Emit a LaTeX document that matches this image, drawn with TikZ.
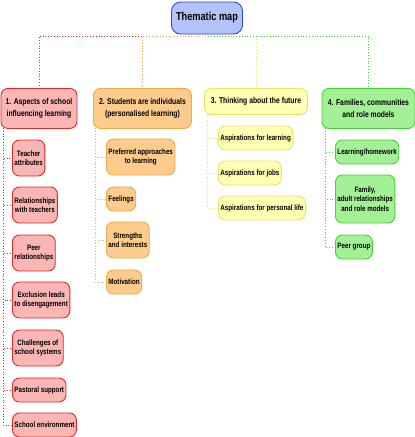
\documentclass[tikz,border=0pt]{standalone}
\usepackage{fontspec}
\setmainfont{Liberation Sans}[FakeStretch=0.8]
\definecolor{rootfill}{HTML}{B4C2F8}
\definecolor{rootline}{HTML}{2848E0}
\definecolor{redfill}{HTML}{F9B6B4}
\definecolor{redline}{HTML}{E02828}
\definecolor{orafill}{HTML}{FDCB8C}
\definecolor{oraline}{HTML}{F0A848}
\definecolor{yelfill}{HTML}{FFFFB4}
\definecolor{yelline}{HTML}{E4E46C}
\definecolor{grnfill}{HTML}{A4F096}
\definecolor{grnline}{HTML}{48D038}
\begin{document}
\begin{tikzpicture}[x=1pt, y=-1pt, every node/.style={rounded corners=7pt, line width=0.9pt, font=\bfseries\fontsize{7.8}{9.5}\selectfont, align=center, inner sep=2pt},
    rootbox/.style={draw=rootline, fill=rootfill, rounded corners=9pt, font=\bfseries\fontsize{11.5}{13}\selectfont},
    topbox/.style={font=\bfseries\fontsize{8.5}{12}\selectfont, anchor=north west, minimum height=40pt},
    redbox/.style={draw=redline, fill=redfill, anchor=west, minimum height=24pt},
    orabox/.style={draw=oraline, fill=orafill, anchor=west, minimum height=24pt},
    yelbox/.style={draw=yelline, fill=yelfill, anchor=west, minimum height=24pt},
    grnbox/.style={draw=grnline, fill=grnfill, anchor=west, minimum height=24pt},
    redlink/.style={draw=redline, dotted, line width=0.8pt},
    oralink/.style={draw=oraline, dotted, line width=0.8pt},
    yellink/.style={draw=yelline, dotted, line width=0.8pt},
    grnlink/.style={draw=grnline, dotted, line width=0.8pt}]
    \useasboundingbox (0,0) rectangle (415,437);
    % root and topics
    \node[rootbox, minimum width=71pt, minimum height=32pt] (root) at (207,18) {Thematic map};
    \coordinate (j) at (207,36);
    \node[redbox, topbox, minimum width=76pt] (t1) at (0.5,88) {1. Aspects of school\\influencing learning};
    \node[orabox, topbox, minimum width=98pt] (t2) at (93,88) {2. Students are individuals\\(personalised learning)};
    \node[yelbox, topbox, minimum width=103pt, minimum height=26pt] (t3) at (204,88) {3. Thinking about the future};
    \node[grnbox, topbox, minimum width=93pt] (t4) at (321.5,88) {4. Families, communities\\and role models};
    \draw[redlink] (root.south) -- (j) -| (t1);
    \draw[oralink] (root.south) -- (j) -| (t2);
    \draw[yellink] (root.south) -- (j) -| (t3);
    \draw[grnlink] (root.south) -- (j) -| (t4);
    % branch 1
    \coordinate (s1) at (3,128);
    \node[redbox, minimum height=36pt] (a1) at (12,158) {Teacher\\attributes};
    \node[redbox, minimum height=36pt] (a2) at (12,205) {Relationships\\with teachers};
    \node[redbox, minimum height=36pt] (a3) at (12,253) {Peer\\relationships};
    \node[redbox, minimum height=36pt] (a4) at (12,300) {Exclusion leads\\to disengagement};
    \node[redbox, minimum height=36pt] (a5) at (12,348) {Challenges of\\school systems};
    \node[redbox] (a6) at (12,390) {Pastoral support};
    \node[redbox] (a7) at (12,425) {School environment};
    \foreach \n in {a1,a2,a3,a4,a5,a6,a7}
        \draw[redlink] (s1) |- (\n.west);
    % branch 2
    \coordinate (s2) at (95,128);
    \node[orabox, minimum height=36pt] (b1) at (106,157) {Preferred approaches\\to learning};
    \node[orabox] (b2) at (106,199) {Feelings};
    \node[orabox, minimum height=36pt] (b3) at (106,240) {Strengths\\and interests};
    \node[orabox] (b4) at (106,282) {Motivation};
    \foreach \n in {b1,b2,b3,b4}
        \draw[oralink] (s2) |- (\n.west);
    % branch 3
    \coordinate (s3) at (207,114);
    \node[yelbox] (c1) at (218,138) {Aspirations for learning};
    \node[yelbox] (c2) at (218,173) {Aspirations for jobs};
    \node[yelbox] (c3) at (218,208) {Aspirations for personal life};
    \foreach \n in {c1,c2,c3}
        \draw[yellink] (s3) |- (\n.west);
    % branch 4
    \coordinate (s4) at (325,128);
    \node[grnbox] (d1) at (335,152) {Learning/homework};
    \node[grnbox, minimum height=48pt] (d2) at (335,199) {Family,\\adult relationships\\and role models};
    \node[grnbox] (d3) at (335,247) {Peer group};
    \foreach \n in {d1,d2,d3}
        \draw[grnlink] (s4) |- (\n.west);
\end{tikzpicture}
\end{document}
